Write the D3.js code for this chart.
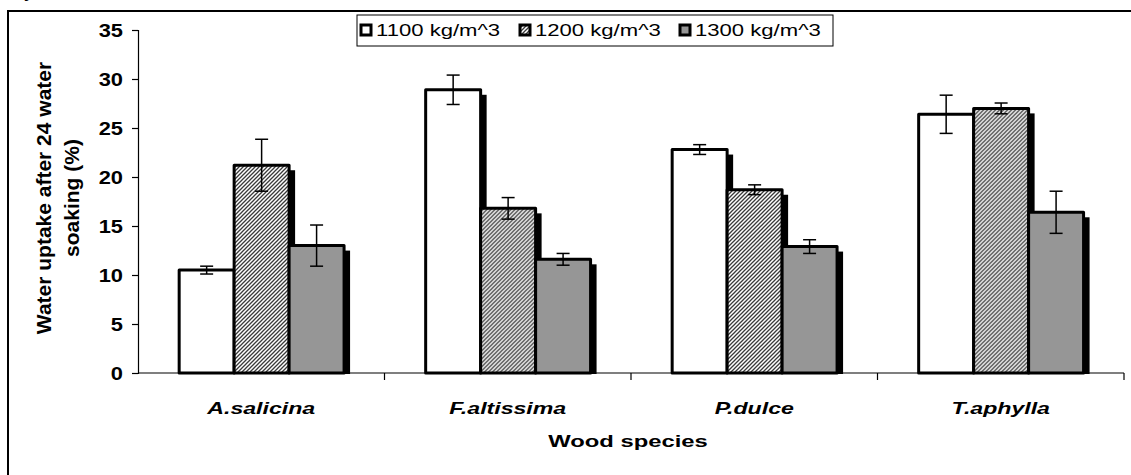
<!DOCTYPE html>
<html>
<head>
<meta charset="utf-8">
<script src="https://cdn.jsdelivr.net/npm/d3@7"></script>
<style>
  body { margin: 0; background: #fff; }
  svg { display: block; font-family: "Liberation Sans", Arial, sans-serif; }
</style>
</head>
<body>
<div id="chart"></div>
<script>
const species = ["A.salicina", "F.altissima", "P.dulce", "T.aphylla"];
const densities = ["1100 kg/m^3", "1200 kg/m^3", "1300 kg/m^3"];
const uptake1100 = [10.5, 28.9, 22.8, 26.4];
const uptake1200 = [21.2, 16.8, 18.7, 27.0];
const uptake1300 = [13.0, 11.6, 12.9, 16.4];
const err1100 = [0.4, 1.5, 0.5, 1.95];
const err1200 = [2.65, 1.1, 0.5, 0.55];
const err1300 = [2.1, 0.6, 0.7, 2.15];
const yTicks = [0, 5, 10, 15, 20, 25, 30, 35];

const width = 1131, height = 475;
const margin = { top: 30, right: 7, bottom: 102, left: 138 };

const svg = d3.select("#chart")
  .append("svg")
  .attr("width", width)
  .attr("height", height);

// hatch for the 1200 series
const defs = svg.append("defs");
const hatch = defs.append("pattern")
  .attr("id", "hatch")
  .attr("patternUnits", "userSpaceOnUse")
  .attr("width", 4)
  .attr("height", 4);
hatch.append("rect").attr("width", 4).attr("height", 4).attr("fill", "#fff");
hatch.append("path")
  .attr("d", "M-1,1 l2,-2 M0,4 l4,-4 M3,5 l2,-2")
  .attr("stroke", "#3a3a3a")
  .attr("stroke-width", 1.3);

const fills = ["#ffffff", "url(#hatch)", "#969696"];

// outer frame
svg.append("rect")
  .attr("x", 8).attr("y", 11)
  .attr("width", 1300).attr("height", 700)
  .attr("fill", "none")
  .attr("stroke", "#000")
  .attr("stroke-width", 2);

// clipped glyph above the frame
svg.append("text")
  .attr("x", 24).attr("y", -2)
  .style("font-size", "17px")
  .style("font-weight", 700)
  .text("y");

const x0 = d3.scaleBand()
  .domain(species)
  .range([margin.left, width - margin.right])
  .padding(0);

const x1 = d3.scaleBand()
  .domain(densities)
  .range([x0.bandwidth() * 0.167, x0.bandwidth() * 0.836])
  .padding(0);

const y = d3.scaleLinear()
  .domain([0, 35])
  .range([height - margin.bottom, margin.top]);

const rows = species.map((s, i) => ({
  species: s,
  values: [
    { key: densities[0], v: uptake1100[i], e: err1100[i], k: 0 },
    { key: densities[1], v: uptake1200[i], e: err1200[i], k: 1 },
    { key: densities[2], v: uptake1300[i], e: err1300[i], k: 2 }
  ]
}));

const groups = svg.append("g")
  .selectAll("g")
  .data(rows)
  .join("g")
  .attr("transform", d => `translate(${x0(d.species)},0)`);

// shadows first
groups.selectAll(".shadow")
  .data(d => d.values)
  .join("rect")
  .attr("class", "shadow")
  .attr("x", d => x1(d.key) + 6)
  .attr("y", d => y(d.v) + 5)
  .attr("width", x1.bandwidth())
  .attr("height", d => y(0) - y(d.v) - 4)
  .attr("fill", "#000");

groups.selectAll(".bar")
  .data(d => d.values)
  .join("rect")
  .attr("class", "bar")
  .attr("x", d => x1(d.key))
  .attr("y", d => y(d.v))
  .attr("width", x1.bandwidth())
  .attr("height", d => y(0) - y(d.v))
  .attr("fill", d => fills[d.k])
  .attr("stroke", "#000")
  .attr("stroke-width", 3)
  .attr("stroke-linejoin", "round");

// error bars
const errs = groups.selectAll(".err")
  .data(d => d.values)
  .join("g")
  .attr("class", "err")
  .attr("transform", d => `translate(${x1(d.key) + x1.bandwidth() / 2},0)`)
  .attr("stroke", "#000")
  .attr("stroke-width", 1.5);
errs.append("line")
  .attr("y1", d => y(d.v + d.e)).attr("y2", d => y(d.v - d.e));
errs.append("line")
  .attr("x1", -6.5).attr("x2", 6.5)
  .attr("y1", d => y(d.v + d.e)).attr("y2", d => y(d.v + d.e));
errs.append("line")
  .attr("x1", -6.5).attr("x2", 6.5)
  .attr("y1", d => y(d.v - d.e)).attr("y2", d => y(d.v - d.e));

// y axis
const yAxis = svg.append("g")
  .attr("transform", `translate(${margin.left},0)`)
  .call(d3.axisLeft(y).tickValues(yTicks).tickSize(6).tickPadding(10));
yAxis.select(".domain").attr("stroke-width", 1.2);
yAxis.selectAll(".tick line").attr("stroke-width", 1.2);
yAxis.selectAll(".tick text")
  .attr("x", null)
  .attr("transform", "translate(-15,0) scale(1.15,1)")
  .style("font-size", "19px")
  .style("font-weight", 700)
  .style("font-family", "Liberation Sans, Arial, sans-serif")
  .attr("fill", "#000");

// x axis with ticks at category boundaries
const xAxis = svg.append("g")
  .attr("transform", `translate(0,${y(0)})`);
xAxis.append("line")
  .attr("x1", margin.left).attr("x2", width - margin.right)
  .attr("stroke", "#000").attr("stroke-width", 1.2);
xAxis.selectAll(".xtick")
  .data(species.slice(1).map(s => x0(s)).concat([x0.range()[1]]))
  .join("line")
  .attr("x1", d => d).attr("x2", d => d)
  .attr("y1", 0).attr("y2", 7)
  .attr("stroke", "#000").attr("stroke-width", 1.2);
xAxis.selectAll(".xlabel")
  .data(species)
  .join("text")
  .attr("transform", d => `translate(${x0(d) + x0.bandwidth() / 2},41) scale(1.36,1)`)
  .attr("text-anchor", "middle")
  .style("font-size", "17px")
  .style("font-weight", 700)
  .style("font-style", "italic")
  .text(d => d);

// axis titles
svg.append("text")
  .attr("transform", "translate(628,447) scale(1.4,1)")
  .attr("text-anchor", "middle")
  .style("font-size", "17px")
  .style("font-weight", 700)
  .text("Wood species");

const yTitle = svg.append("text")
  .attr("transform", "translate(51,198) rotate(-90)")
  .attr("text-anchor", "middle")
  .style("font-size", "21px")
  .style("font-weight", 700);
yTitle.append("tspan").attr("x", 0).attr("y", 0).text("Water uptake after 24 water");
yTitle.append("tspan").attr("x", 0).attr("y", 28).text("soaking (%)");

// legend
const legend = svg.append("g");
legend.append("rect")
  .attr("x", 357).attr("y", 15)
  .attr("width", 476).attr("height", 31)
  .attr("fill", "#fff")
  .attr("stroke", "#000")
  .attr("stroke-width", 1);
const legendX = [361, 520, 680];
const items = legend.selectAll(".item")
  .data(densities)
  .join("g")
  .attr("transform", (d, i) => `translate(${legendX[i]},28)`);
items.append("rect")
  .attr("x", 0).attr("y", -3)
  .attr("width", 10).attr("height", 10)
  .attr("fill", (d, i) => fills[i])
  .attr("stroke", "#000")
  .attr("stroke-width", 3);
items.append("text")
  .attr("transform", "translate(15,8) scale(1.3,1)")
  .style("font-size", "17px")
  .text(d => d);
</script>
</body>
</html>
